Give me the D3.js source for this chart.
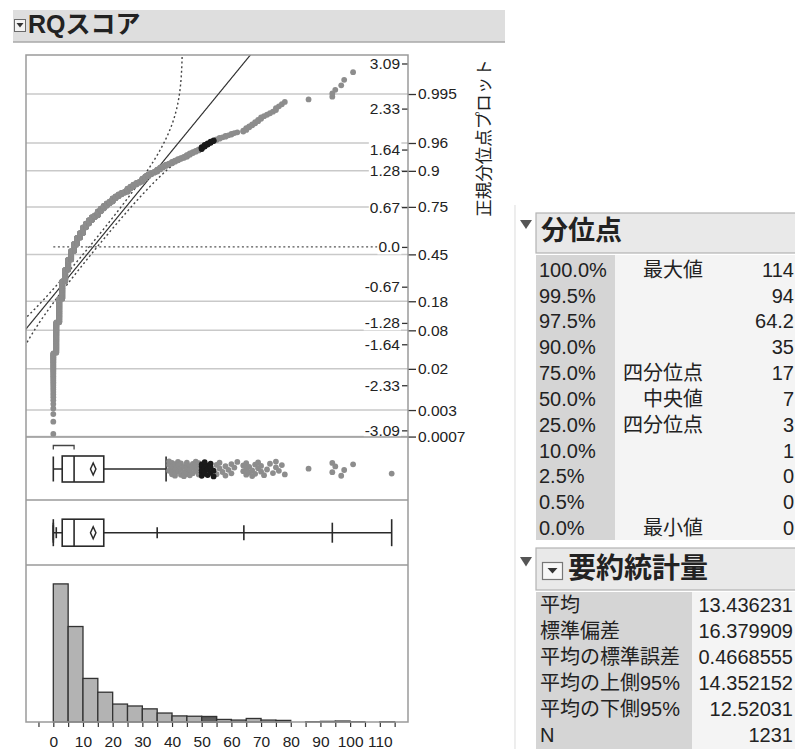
<!DOCTYPE html>
<html>
<head>
<meta charset="utf-8">
<script src="https://cdn.jsdelivr.net/npm/d3@7"></script>
<style>
  body { margin: 0; background: #fff; }
  svg { display: block; }
  text { font-family: "Liberation Sans", Arial, "Noto Sans CJK JP", sans-serif; fill: #222; }
</style>
</head>
<body>
<svg id="chart" width="795" height="749"></svg>
<script>
// ---- data -------------------------------------------------------------
// number of respondents at each RQ score 0..79
const countsByScore = [
  45, 80, 110, 110, 86,   80, 70, 60, 50, 38,
  45, 30, 26, 22, 13,     28, 20, 18, 15, 12,
  19, 12, 11, 9, 5,       17, 10, 10, 8, 5,
  14, 9, 8, 6, 4,         8, 7, 5, 5, 3,
  5, 4, 4, 3, 3,          5, 4, 3, 3, 3,
  5, 4, 3, 3, 2,          2, 2, 1, 2, 1,
  2, 1, 1, 0, 2,          3, 2, 2, 2, 2,
  2, 1, 1, 1, 1,          2, 1, 1, 1, 0
];
// individual scores of 80 and above
const highScores = [86, 94, 94, 95, 97, 98, 101, 114];
// highlighted rows: scores in [50, 55)
const selectedRange = [50, 55];

// quantile table
const quantileLevels = ["100.0%", "99.5%", "97.5%", "90.0%", "75.0%", "50.0%", "25.0%", "10.0%", "2.5%", "0.5%", "0.0%"];
const quantileNames  = ["最大値", "", "", "", "四分位点", "中央値", "四分位点", "", "", "", "最小値"];
const quantileValues = [114, 94, 64.2, 35, 17, 7, 3, 1, 0, 0, 0];

// summary statistics
const summaryLabels = ["平均", "標準偏差", "平均の標準誤差", "平均の上側95%", "平均の下側95%", "N"];
const summaryValues = [13.436231, 16.379909, 0.4668555, 14.352152, 12.52031, 1231];

// normal quantile plot axes
const zTicks = [3.09, 2.33, 1.64, 1.28, 0.67, 0.0, -0.67, -1.28, -1.64, -2.33, -3.09];
const zTickLabels = ["3.09", "2.33", "1.64", "1.28", "0.67", "0.0", "-0.67", "-1.28", "-1.64", "-2.33", "-3.09"];
const probTicks = [0.995, 0.96, 0.9, 0.75, 0.45, 0.18, 0.08, 0.02, 0.003, 0.0007];
const probTickLabels = ["0.995", "0.96", "0.9", "0.75", "0.45", "0.18", "0.08", "0.02", "0.003", "0.0007"];
const histTicks = d3.range(-5, 120, 5);

// ---- statistics helpers -------------------------------------------------
function normInv(p) {
  const a = [-3.969683028665376e+01, 2.209460984245205e+02, -2.759285104469687e+02, 1.383577518672690e+02, -3.066479806614716e+01, 2.506628277459239e+00];
  const b = [-5.447609879822406e+01, 1.615858368580409e+02, -1.556989798598866e+02, 6.680131188771972e+01, -1.328068155288572e+01];
  const c = [-7.784894002430293e-03, -3.223964580411365e-01, -2.400758277161838e+00, -2.549732539343734e+00, 4.374664141464968e+00, 2.938163982698783e+00];
  const d = [7.784695709041462e-03, 3.224671290700398e-01, 2.445134137142996e+00, 3.754408661907416e+00];
  const pl = 0.02425, ph = 1 - pl;
  let q, r;
  if (p < pl) {
    q = Math.sqrt(-2 * Math.log(p));
    return (((((c[0]*q+c[1])*q+c[2])*q+c[3])*q+c[4])*q+c[5]) / ((((d[0]*q+d[1])*q+d[2])*q+d[3])*q+1);
  }
  if (p > ph) {
    q = Math.sqrt(-2 * Math.log(1 - p));
    return -(((((c[0]*q+c[1])*q+c[2])*q+c[3])*q+c[4])*q+c[5]) / ((((d[0]*q+d[1])*q+d[2])*q+d[3])*q+1);
  }
  q = p - 0.5; r = q * q;
  return (((((a[0]*r+a[1])*r+a[2])*r+a[3])*r+a[4])*r+a[5])*q / (((((b[0]*r+b[1])*r+b[2])*r+b[3])*r+b[4])*r+1);
}
function normCdf(z) {
  const t = 1 / (1 + 0.2316419 * Math.abs(z));
  const dd = 0.3989423 * Math.exp(-z * z / 2);
  const p = dd * t * (0.3193815 + t * (-0.3565638 + t * (1.781478 + t * (-1.821256 + t * 1.330274))));
  return z > 0 ? 1 - p : p;
}

// ---- prepare -----------------------------------------------------------
const scores = [];
countsByScore.forEach((c, v) => { for (let k = 0; k < c; k++) scores.push(v); });
highScores.forEach(v => scores.push(v));
scores.sort(d3.ascending);
const n = scores.length;
const isSelected = v => v >= selectedRange[0] && v < selectedRange[1];

const qv = {};
quantileLevels.forEach((l, i) => qv[l] = quantileValues[i]);
const mean = summaryValues[0], sd = summaryValues[1];
const upper95 = summaryValues[3], lower95 = summaryValues[4];

// ---- layout ------------------------------------------------------------
const FL = 26, FR = 408, QT = 55, QB = 437, B1B = 500, B2B = 565, HB = 722;
const svg = d3.select("#chart");
const ptR = 2.9;

const x = d3.scaleLinear().domain([-9.2, 119.5]).range([FL, FR]);
const zY = d3.scaleLinear().domain([-3.202, 3.233]).range([QB, QT]);
const histY = d3.scaleLinear().domain([0, 490]).range([HB, B2B]);

// ---- report header -----------------------------------------------------
svg.append("rect").attr("x", 13).attr("y", 10).attr("width", 492).attr("height", 32).attr("fill", "#dedede");
svg.append("line").attr("x1", 13).attr("x2", 505).attr("y1", 42).attr("y2", 42).attr("stroke", "#a9a9a9").attr("stroke-width", 1.5);
svg.append("rect").attr("x", 14.5).attr("y", 19.5).attr("width", 11).attr("height", 12).attr("fill", "#f3f3f3").attr("stroke", "#6a6a6a");
svg.append("path").attr("d", "M16.5,23 L23.5,23 L20,27.5 Z").attr("fill", "#333");
svg.append("text").attr("x", 28).attr("y", 32.5).attr("font-size", 25).attr("font-weight", "bold").text("RQスコア");

// ---- normal quantile plot ----------------------------------------------
svg.append("defs").append("clipPath").attr("id", "qqclip")
  .append("rect").attr("x", FL).attr("y", QT).attr("width", FR - FL).attr("height", QB - QT);

const probZ = probTicks.map(p => normInv(p));
svg.append("g").selectAll("line").data(probZ).join("line")
  .attr("x1", FL).attr("x2", FR).attr("y1", d => zY(d)).attr("y2", d => zY(d))
  .attr("stroke", "#c9c9c9").attr("stroke-width", 1.5);

const qq = svg.append("g").attr("clip-path", "url(#qqclip)");

// reference line at z = 0 across the data range
qq.append("line").attr("x1", x(scores[0])).attr("x2", x(scores[n - 1]))
  .attr("y1", zY(0)).attr("y2", zY(0))
  .attr("stroke", "#555").attr("stroke-width", 1.4).attr("stroke-dasharray", "2,2.6");

// fitted normal line and Lilliefors confidence bounds
const zGrid = d3.range(-3.4, 3.4001, 0.01);
const bandD = 0.033;
const lineGen = d3.line().x(d => x(d[0])).y(d => zY(d[1]));
qq.append("path").attr("d", lineGen(zGrid.map(z => [mean + sd * z, z])))
  .attr("fill", "none").attr("stroke", "#333").attr("stroke-width", 1.2);
const bandLeft = zGrid.filter(z => normCdf(z) - bandD > 0.005).map(z => [mean + sd * normInv(normCdf(z) - bandD), z]);
const bandRight = zGrid.filter(z => normCdf(z) + bandD < 0.995).map(z => [mean + sd * normInv(normCdf(z) + bandD), z]);
[bandLeft, bandRight].forEach(b => qq.append("path").attr("d", lineGen(b))
  .attr("fill", "none").attr("stroke", "#444").attr("stroke-width", 1.4).attr("stroke-dasharray", "2,2.6"));

// points
const qqPts = scores.map((v, i) => ({ v, z: normInv((i + 1) / (n + 1)), sel: isSelected(v) }));
qq.append("g").selectAll("circle").data(qqPts.filter(d => !d.sel)).join("circle")
  .attr("cx", d => x(d.v)).attr("cy", d => zY(d.z)).attr("r", ptR).attr("fill", "#8d8d8d");
qq.append("g").selectAll("circle").data(qqPts.filter(d => d.sel)).join("circle")
  .attr("cx", d => x(d.v)).attr("cy", d => zY(d.z)).attr("r", ptR).attr("fill", "#1a1a1a");

// normal quantile axis (inside) and probability axis (outside)
const zAxis = svg.append("g").attr("transform", `translate(${FR},0)`)
  .call(d3.axisLeft(zY).tickValues(zTicks).tickFormat((d, i) => zTickLabels[i]).tickSize(6).tickPadding(2));
zAxis.select(".domain").remove();
zAxis.selectAll("line").attr("stroke", "#333").attr("stroke-width", 1.3);
zAxis.selectAll("text").attr("font-size", 15.5).attr("fill", "#222")
  .style("font-family", "'Liberation Sans', Arial, sans-serif");
zAxis.selectAll(".tick").each(function () {
  const t = d3.select(this).select("text");
  const bb = t.node().getBBox();
  d3.select(this).insert("rect", "text").attr("x", bb.x - 1).attr("y", bb.y + 1)
    .attr("width", bb.width + 2).attr("height", bb.height - 2).attr("fill", "#fff");
});

const pAxis = svg.append("g").attr("transform", `translate(${FR},0)`)
  .call(d3.axisRight(zY).tickValues(probZ).tickFormat((d, i) => probTickLabels[i]).tickSize(8).tickPadding(2));
pAxis.select(".domain").remove();
pAxis.selectAll("line").attr("stroke", "#333").attr("stroke-width", 1.3);
pAxis.selectAll("text").attr("font-size", 15.5).attr("fill", "#222")
  .style("font-family", "'Liberation Sans', Arial, sans-serif");

svg.append("text").attr("transform", "translate(484,138) rotate(-90)")
  .attr("text-anchor", "middle").attr("dominant-baseline", "central")
  .attr("font-size", 17.5).text("正規分位点プロット");

// ---- outlier box plot ---------------------------------------------------
const q1 = qv["25.0%"], q3 = qv["75.0%"], med = qv["50.0%"];
const iqr = q3 - q1;
const hiFence = q3 + 1.5 * iqr, loFence = q1 - 1.5 * iqr;
const upWhisk = d3.max(scores.filter(v => v <= hiFence));
const loWhisk = d3.min(scores.filter(v => v >= loFence));
const stroke = "#2a2a2a";

function boxCore(g, cy, hh) {
  g.append("rect").attr("x", x(q1)).attr("y", cy - hh).attr("width", x(q3) - x(q1)).attr("height", 2 * hh)
    .attr("fill", "#fff").attr("stroke", stroke).attr("stroke-width", 1.6);
  g.append("line").attr("x1", x(med)).attr("x2", x(med)).attr("y1", cy - hh).attr("y2", cy + hh)
    .attr("stroke", stroke).attr("stroke-width", 1.6);
  g.append("path").attr("d", `M${x(lower95)},${cy} L${x(mean)},${cy - 6} L${x(upper95)},${cy} L${x(mean)},${cy + 6} Z`)
    .attr("fill", "none").attr("stroke", stroke).attr("stroke-width", 1.5);
}

const b1 = svg.append("g");
const cy1 = 469;
b1.append("line").attr("x1", x(loWhisk)).attr("x2", x(q1)).attr("y1", cy1).attr("y2", cy1).attr("stroke", stroke).attr("stroke-width", 1.5);
b1.append("line").attr("x1", x(q3)).attr("x2", x(upWhisk)).attr("y1", cy1).attr("y2", cy1).attr("stroke", stroke).attr("stroke-width", 1.5);
[loWhisk, upWhisk].forEach(v => b1.append("line").attr("x1", x(v)).attr("x2", x(v))
  .attr("y1", cy1 - 12.5).attr("y2", cy1 + 12.5).attr("stroke", stroke).attr("stroke-width", 1.6));
boxCore(b1, cy1, 13);

// shortest half bracket
const half = Math.floor(n / 2);
let shortI = 0;
for (let i = 0; i + half < n; i++) if (scores[i + half] - scores[i] < scores[shortI + half] - scores[shortI]) shortI = i;
const sh = [scores[shortI], scores[shortI + half]];
b1.append("path").attr("d", `M${x(sh[0])},449.5 L${x(sh[0])},445.5 L${x(sh[1])},445.5 L${x(sh[1])},449.5`)
  .attr("fill", "none").attr("stroke", "#444").attr("stroke-width", 1.3);

// outliers with a deterministic vertical spread
const outliers = scores.filter(v => v > upWhisk || v < loWhisk)
  .map((v, i) => ({ v, sel: isSelected(v), dy: (((i * 0.618034) % 1) - 0.5) * 15 }));
b1.append("g").selectAll("circle").data(outliers.filter(d => !d.sel)).join("circle")
  .attr("cx", d => x(d.v)).attr("cy", d => cy1 + d.dy).attr("r", ptR).attr("fill", "#8d8d8d");
b1.append("g").selectAll("circle").data(outliers.filter(d => d.sel)).join("circle")
  .attr("cx", d => x(d.v)).attr("cy", d => cy1 + d.dy).attr("r", ptR).attr("fill", "#1a1a1a");

// ---- quantile box plot --------------------------------------------------
const b2 = svg.append("g");
const cy2 = 532.7;
b2.append("line").attr("x1", x(qv["0.0%"])).attr("x2", x(qv["100.0%"])).attr("y1", cy2).attr("y2", cy2)
  .attr("stroke", stroke).attr("stroke-width", 1.5);
const qTickSets = [
  { levels: ["10.0%", "90.0%"], hh: 5.5 },
  { levels: ["2.5%", "97.5%"], hh: 7.5 },
  { levels: ["0.5%", "99.5%"], hh: 10 },
  { levels: ["0.0%", "100.0%"], hh: 13.5 }
];
qTickSets.forEach(s => s.levels.forEach(l => b2.append("line")
  .attr("x1", x(qv[l])).attr("x2", x(qv[l])).attr("y1", cy2 - s.hh).attr("y2", cy2 + s.hh)
  .attr("stroke", stroke).attr("stroke-width", 1.6)));
boxCore(b2, cy2, 13.5);

// ---- histogram ----------------------------------------------------------
const bins = d3.bin().domain([0, 115]).thresholds(d3.range(5, 115, 5))(scores);
const hist = svg.append("g");
hist.selectAll("rect.bar").data(bins.filter(b => b.length > 0)).join("rect").attr("class", "bar")
  .attr("x", b => x(b.x0)).attr("width", b => x(b.x1) - x(b.x0))
  .attr("y", b => histY(b.length)).attr("height", b => HB - histY(b.length))
  .attr("fill", "#b3b3b3").attr("stroke", "#333").attr("stroke-width", 1.3);
hist.selectAll("rect.sel").data(bins.filter(b => b.some(isSelected))).join("rect").attr("class", "sel")
  .attr("x", b => x(b.x0)).attr("width", b => x(b.x1) - x(b.x0))
  .attr("y", b => histY(b.filter(isSelected).length)).attr("height", b => HB - histY(b.filter(isSelected).length))
  .attr("fill", "#5e5e5e").attr("stroke", "#333").attr("stroke-width", 1.3);

const xAxis = svg.append("g").attr("transform", `translate(0,${HB})`)
  .call(d3.axisBottom(x).tickValues(histTicks).tickSize(5).tickPadding(9)
    .tickFormat(d => (d >= 0 && d <= 110 && d % 10 === 0) ? d : ""));
xAxis.select(".domain").remove();
xAxis.selectAll("line").attr("stroke", "#333").attr("stroke-width", 1.2);
xAxis.selectAll("text").attr("font-size", 15.5).attr("fill", "#222")
  .style("font-family", "'Liberation Sans', Arial, sans-serif");

// ---- frame and panel separators -----------------------------------------
const frame = svg.append("g").attr("stroke", "#9a9a9a").attr("stroke-width", 1.5).attr("fill", "none");
frame.append("rect").attr("x", FL).attr("y", QT).attr("width", FR - FL).attr("height", HB - QT);
[QB, B1B, B2B].forEach(yy => frame.append("line").attr("x1", FL).attr("x2", FR).attr("y1", yy).attr("y2", yy));

// ---- quantile table -----------------------------------------------------
svg.append("line").attr("x1", 515).attr("x2", 515).attr("y1", 205).attr("y2", 749).attr("stroke", "#e2e2e2").attr("stroke-width", 1.2);

svg.append("path").attr("d", "M520,220 L532,220 L526,229 Z").attr("fill", "#555");
svg.append("rect").attr("x", 536).attr("y", 213).attr("width", 270).attr("height", 40)
  .attr("fill", "#e9e9e9").attr("stroke", "#b3b3b3").attr("stroke-width", 1.2);
svg.append("text").attr("x", 541).attr("y", 240).attr("font-size", 27).attr("font-weight", "bold").text("分位点");

svg.append("rect").attr("x", 536).attr("y", 255).attr("width", 270).attr("height", 285).attr("fill", "#f4f4f4");
svg.append("rect").attr("x", 536).attr("y", 255).attr("width", 79).attr("height", 285).attr("fill", "#d5d5d5");
const qRowY = i => 276.7 + i * 25.83;
const qt = svg.append("g").attr("font-size", 20);
qt.selectAll("text.lv").data(quantileLevels).join("text").attr("class", "lv")
  .attr("x", 539).attr("y", (d, i) => qRowY(i)).text(d => d);
qt.selectAll("text.nm").data(quantileNames).join("text").attr("class", "nm")
  .attr("x", 703).attr("y", (d, i) => qRowY(i)).attr("text-anchor", "end").text(d => d);
qt.selectAll("text.val").data(quantileValues).join("text").attr("class", "val")
  .attr("x", 794).attr("y", (d, i) => qRowY(i)).attr("text-anchor", "end").text(d => String(d));

// ---- summary statistics table -------------------------------------------
svg.append("path").attr("d", "M520,557 L532,557 L526,566.5 Z").attr("fill", "#555");
svg.append("rect").attr("x", 536).attr("y", 548).attr("width", 270).attr("height", 42)
  .attr("fill", "#e9e9e9").attr("stroke", "#b3b3b3").attr("stroke-width", 1.2);
svg.append("rect").attr("x", 542.5).attr("y", 562.5).attr("width", 20).attr("height", 17)
  .attr("fill", "#f7f7f7").attr("stroke", "#777").attr("stroke-width", 1.2);
svg.append("path").attr("d", "M547.5,568 L557.5,568 L552.5,573.5 Z").attr("fill", "#333");
svg.append("text").attr("x", 568).attr("y", 578).attr("font-size", 28).attr("font-weight", "bold").text("要約統計量");

svg.append("rect").attr("x", 536).attr("y", 592).attr("width", 270).attr("height", 160).attr("fill", "#f4f4f4");
svg.append("rect").attr("x", 536).attr("y", 592).attr("width", 156).attr("height", 160).attr("fill", "#d5d5d5");
const sRowY = i => 611.5 + i * 26;
const st = svg.append("g").attr("font-size", 20);
st.selectAll("text.lb").data(summaryLabels).join("text").attr("class", "lb")
  .attr("x", 540).attr("y", (d, i) => sRowY(i)).text(d => d);
st.selectAll("text.val").data(summaryValues).join("text").attr("class", "val")
  .attr("x", 793).attr("y", (d, i) => sRowY(i)).attr("text-anchor", "end").text(d => String(d));
</script>
</body>
</html>
